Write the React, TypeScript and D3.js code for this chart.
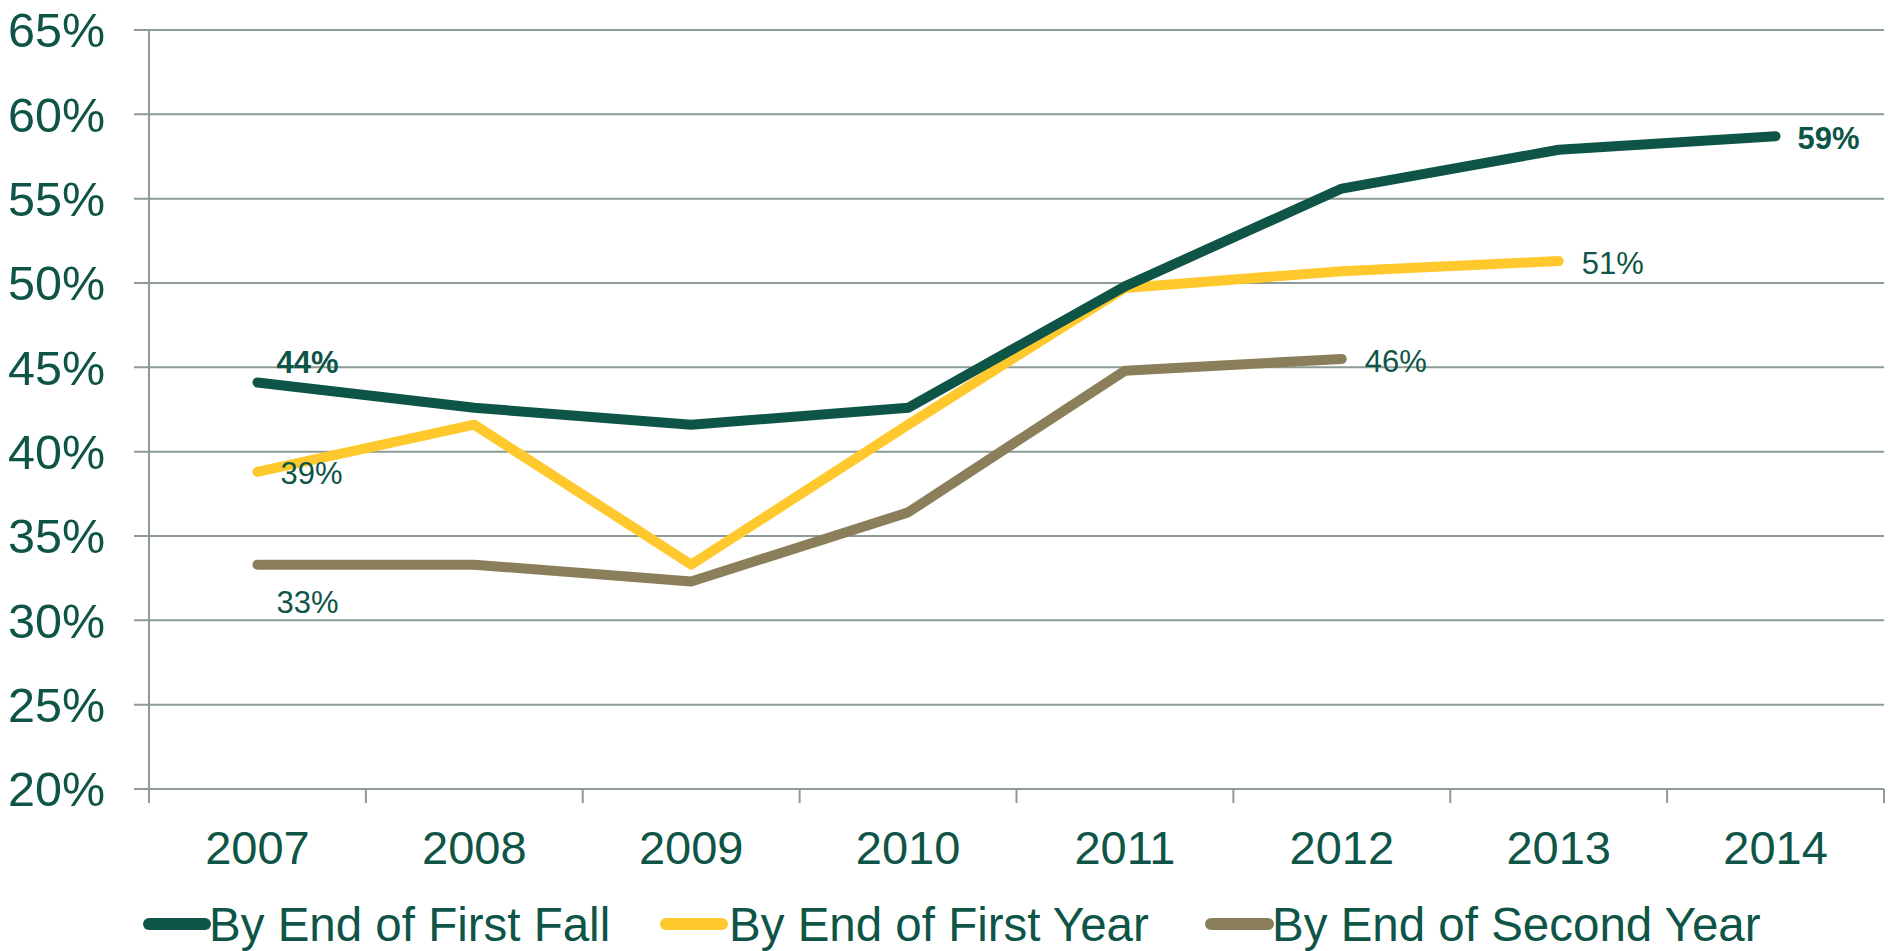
import React from "react";
import * as d3 from "d3";

const years = ["2007", "2008", "2009", "2010", "2011", "2012", "2013", "2014"];
const yTicks = [20, 25, 30, 35, 40, 45, 50, 55, 60, 65];
const firstFall = [44.1, 42.6, 41.6, 42.6, 49.8, 55.6, 57.9, 58.7];
const firstYear = [38.8, 41.6, 33.3, 41.6, 49.7, 50.7, 51.3, null];
const secondYear = [33.3, 33.3, 32.3, 36.4, 44.8, 45.5, null, null];
const seriesNames = ["By End of First Fall", "By End of First Year", "By End of Second Year"];
const colors = ["#0e5547", "#ffc92e", "#8b7f5b"];
// data labels: [seriesIndex, yearIndex, text, bold]
const dataLabels: [number, number, string, boolean][] = [
  [0, 0, "44%", true],
  [1, 0, "39%", false],
  [2, 0, "33%", false],
  [2, 5, "46%", false],
  [1, 6, "51%", false],
  [0, 7, "59%", true],
];

const W = 1894, H = 951;
const left = 149, right = 1884, top = 30, bottom = 789;
const textColor = "#0e5547";
const gridColor = "#8d9b95";
const font = "Liberation Sans, Arial, sans-serif";

export default function App() {
  const x = d3.scaleBand<string>().domain(years).range([left, right]);
  const y = d3.scaleLinear().domain([20, 65]).range([bottom, top]);
  const cx = (i: number) => (x(years[i]) as number) + x.bandwidth() / 2;
  const all = [firstFall, firstYear, secondYear];
  const line = d3
    .line<number | null>()
    .defined((d) => d !== null)
    .x((_, i) => cx(i))
    .y((d) => y(d as number));

  const labelOffsets: Record<string, [number, number]> = {
    "0-0": [19, -10],
    "1-0": [23, 12],
    "2-0": [19, 48],
    "2-5": [23, 13],
    "1-6": [23, 13],
    "0-7": [22, 13],
  };

  const legendItems = [
    { x1: 149, x2: 205, tx: 209 },
    { x1: 666, x2: 722, tx: 729 },
    { x1: 1211, x2: 1268, tx: 1272 },
  ];

  return (
    <svg width={W} height={H} style={{ position: "absolute", left: 0, top: 0, background: "#fff" }}>
      {yTicks.map((t) => (
        <g key={t}>
          <line x1={134} x2={right} y1={y(t)} y2={y(t)} stroke={gridColor} strokeWidth={2} />
          <text
            x={105}
            y={y(t)}
            dy="0.36em"
            textAnchor="end"
            fontFamily={font}
            fontSize={48.5}
            fill={textColor}
          >
            {t}%
          </text>
        </g>
      ))}
      <line x1={left} x2={left} y1={top} y2={bottom + 14} stroke={gridColor} strokeWidth={2} />
      {years.map((yr, i) => (
        <g key={yr}>
          <line
            x1={(x(yr) as number) + x.bandwidth()}
            x2={(x(yr) as number) + x.bandwidth()}
            y1={bottom}
            y2={bottom + 14}
            stroke={gridColor}
            strokeWidth={2}
          />
          <text x={cx(i)} y={864} textAnchor="middle" fontFamily={font} fontSize={47} fill={textColor}>
            {yr}
          </text>
        </g>
      ))}
      {[2, 1, 0].map((s) => (
        <path
          key={s}
          d={line(all[s]) || ""}
          fill="none"
          stroke={colors[s]}
          strokeWidth={10}
          strokeLinecap="round"
          strokeLinejoin="round"
        />
      ))}
      {dataLabels.map(([s, i, txt, bold]) => {
        const off = labelOffsets[`${s}-${i}`];
        return (
          <text
            key={txt}
            x={cx(i) + off[0]}
            y={y(all[s][i] as number) + off[1]}
            fontFamily={font}
            fontSize={31}
            fontWeight={bold ? "bold" : "normal"}
            fill={textColor}
          >
            {txt}
          </text>
        );
      })}
      {seriesNames.map((n, k) => (
        <g key={n}>
          <line
            x1={legendItems[k].x1}
            x2={legendItems[k].x2}
            y1={924}
            y2={924}
            stroke={colors[k]}
            strokeWidth={12}
            strokeLinecap="round"
          />
          <text x={legendItems[k].tx} y={941} fontFamily={font} fontSize={47.5} fill={textColor}>
            {n}
          </text>
        </g>
      ))}
    </svg>
  );
}
